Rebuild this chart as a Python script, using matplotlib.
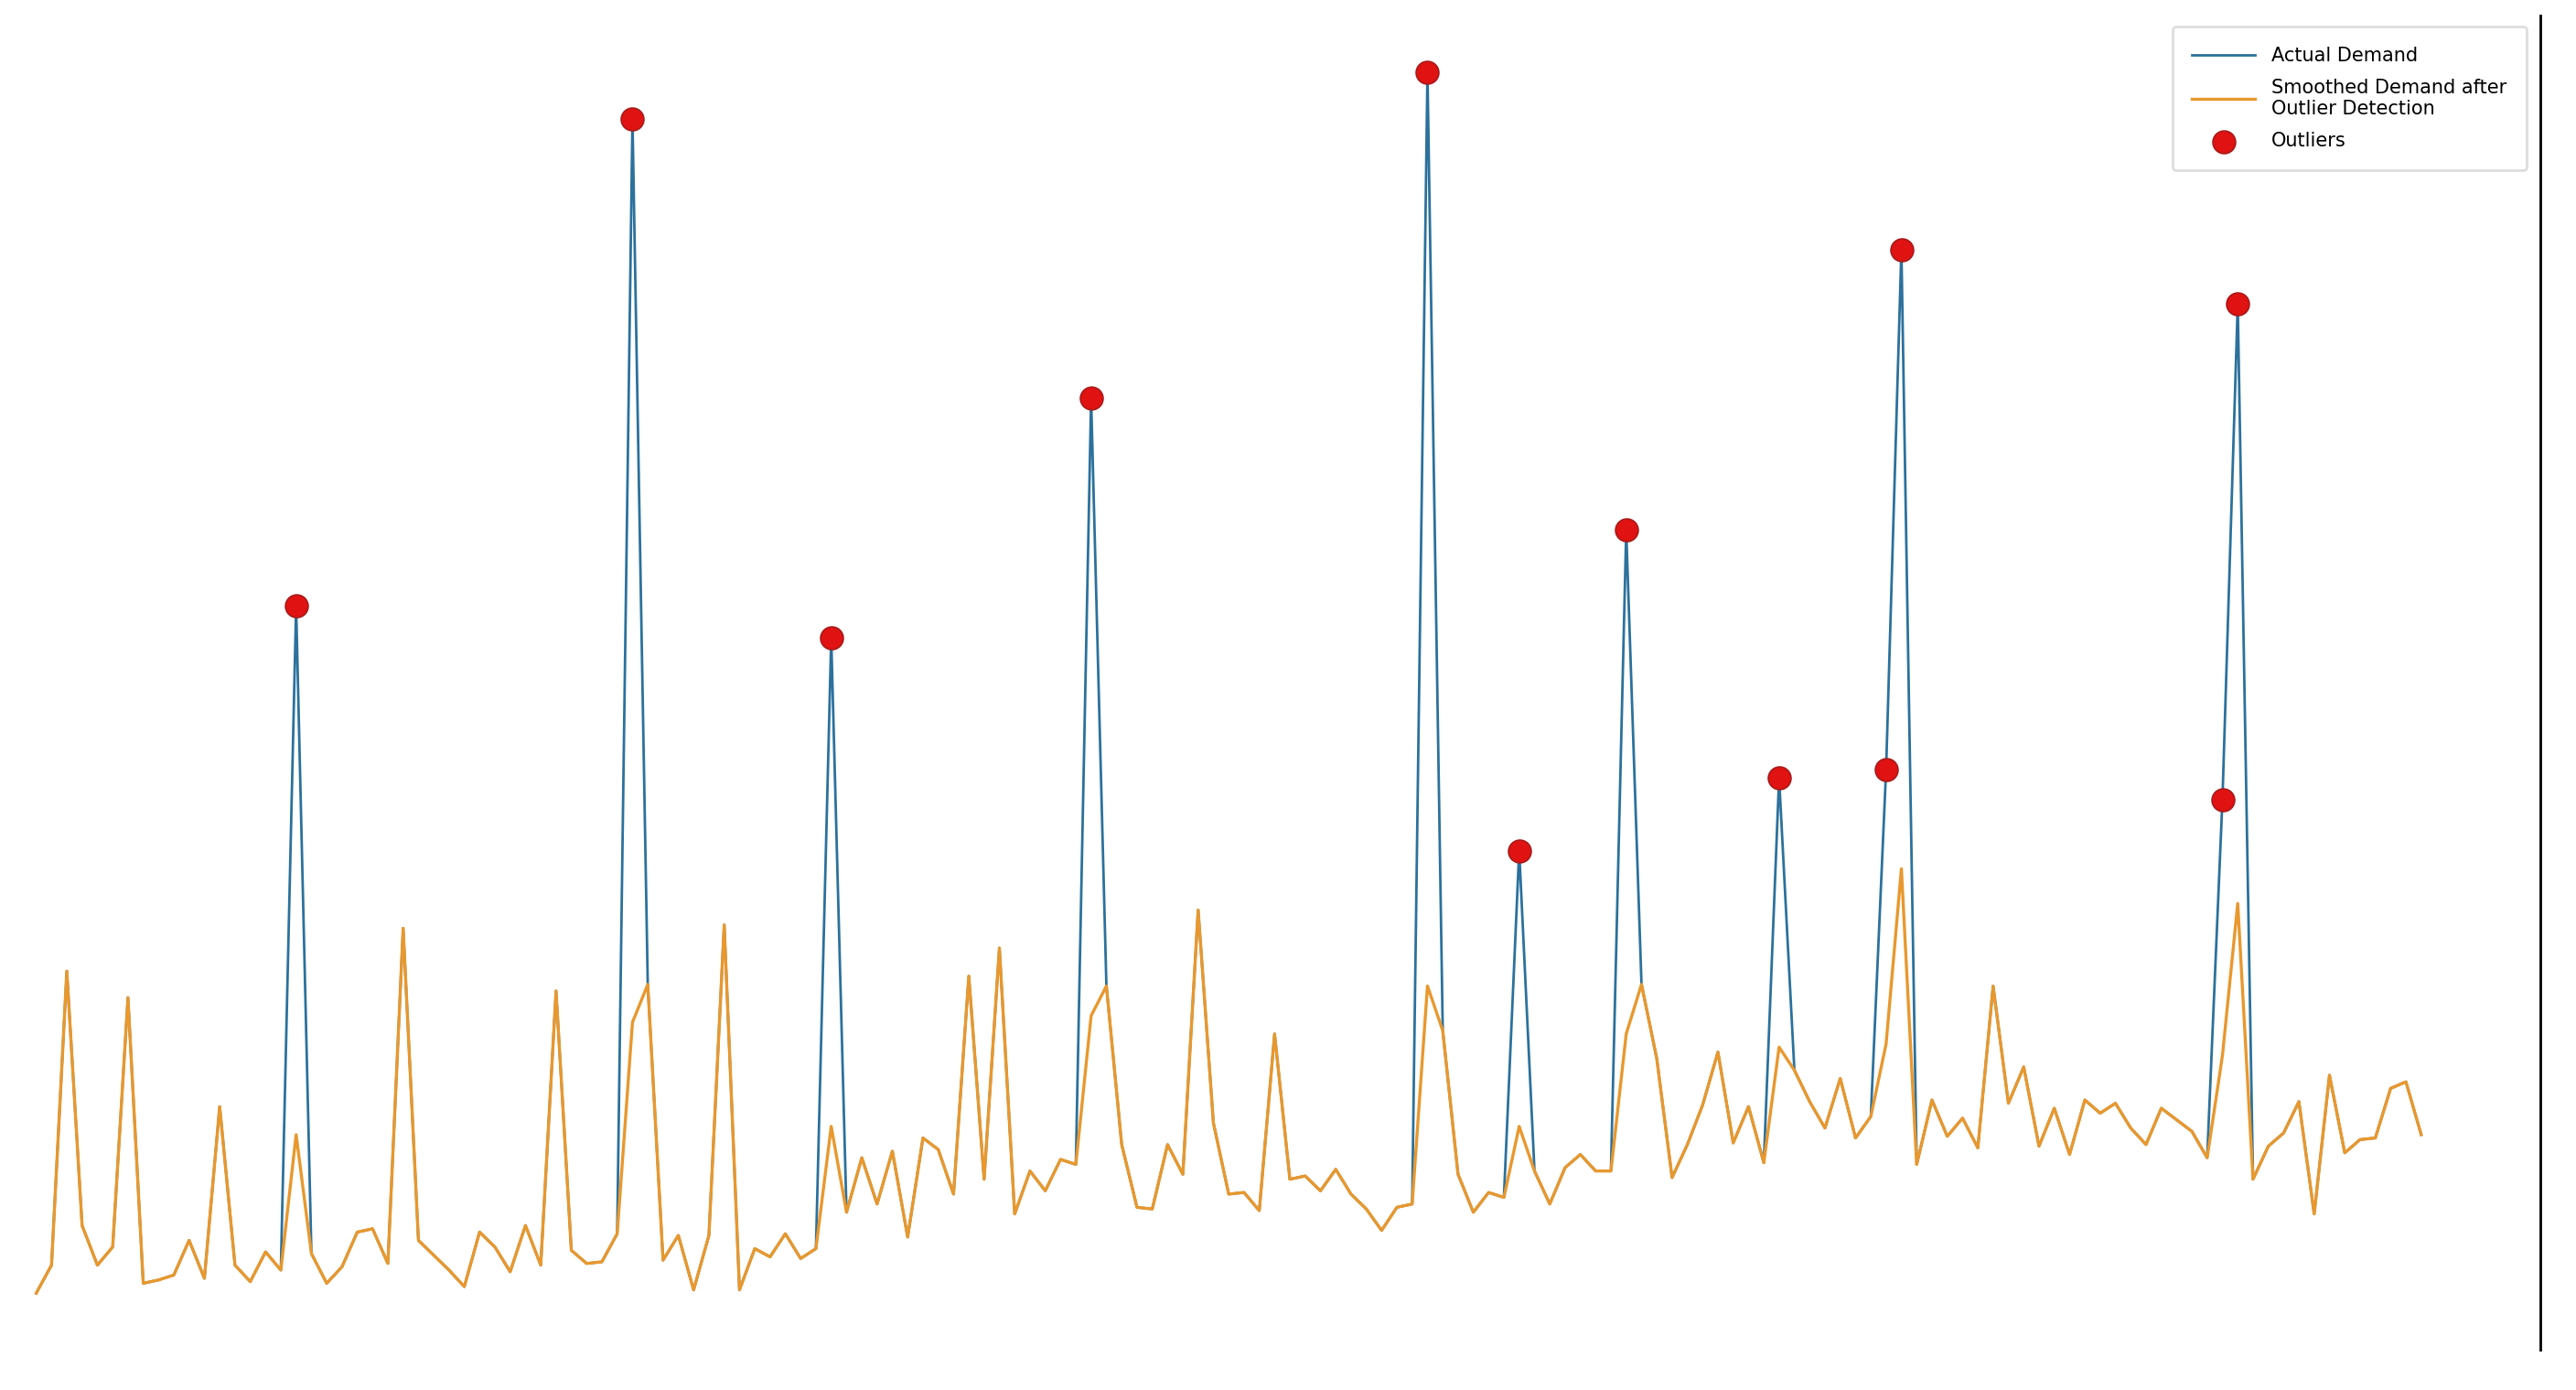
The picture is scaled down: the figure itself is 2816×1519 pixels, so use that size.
import numpy as np
import matplotlib.pyplot as plt

plt.rcParams['font.family'] = ['DejaVu Sans']

# smoothed demand per week (outliers replaced)
smoothed = [17, 34, 212, 58, 34, 45, 196, 23, 25, 28,
            49, 26, 130, 34, 24, 42, 31, 113, 41, 23,
            33, 54, 56, 35, 238, 49, 40, 31, 21, 54,
            45, 30, 58, 34, 200, 43, 35, 36, 53, 181,
            204, 37, 52, 19, 52, 240, 19, 44, 39, 53,
            38, 44, 118, 66, 99, 71, 103, 51, 111, 104,
            77, 209, 86, 226, 65, 91, 79, 98, 95, 185,
            203, 107, 69, 68, 107, 89, 249, 120, 77, 78,
            67, 174, 86, 88, 79, 92, 77, 68, 55, 69,
            71, 203, 176, 89, 66, 78, 75, 118, 91, 71,
            93, 101, 91, 91, 174, 204, 159, 87, 107, 131,
            163, 108, 130, 96, 166, 152, 133, 117, 147, 111,
            124, 168, 274, 95, 134, 112, 123, 105, 203, 132,
            154, 106, 129, 101, 134, 126, 132, 117, 107, 129,
            122, 115, 99, 161, 253, 86, 106, 114, 133, 65,
            149, 102, 110, 111, 141, 145, 113]

# detected outliers: week index and actual value
outlier_idx = [17, 39, 52, 69, 91, 97, 104, 114, 121, 122, 143, 144]
outlier_val = [433, 728, 414, 559, 756, 285, 479, 329, 334, 649, 316, 616]

weeks = np.arange(len(smoothed))
actual = np.array(smoothed, dtype=float)
actual[outlier_idx] = outlier_val

fig = plt.figure(figsize=(14.08, 7.595), dpi=200)
ax = fig.add_axes([0.0, 0.029, 0.9862, 0.9598])

ax.plot(weeks, actual, color='#2c719c', linewidth=1.0, label='Actual Demand', zorder=2)
ax.plot(weeks, smoothed, color='#e8982e', linewidth=1.2,
        label='Smoothed Demand after\nOutlier Detection', zorder=3)
ax.scatter(outlier_idx, outlier_val, s=80, color='#e01212', edgecolor='#a81a1a',
           linewidth=0.6, label='Outliers', zorder=4)

ax.set_xlim(-2.37, 163.8)
ax.set_ylim(-17.2, 790.6)
ax.set_xticks([])
ax.set_yticks([])
for side in ['left', 'top', 'bottom']:
    ax.spines[side].set_visible(False)
ax.spines['right'].set_linewidth(1.0)
ax.spines['right'].set_color('black')

ax.legend(loc='upper right', bbox_to_anchor=(2762 / 2816, 1 - 29 / 1519),
          bbox_transform=fig.transFigure, borderaxespad=0, fontsize=7.5,
          handlelength=3.3, handletextpad=0.85, labelspacing=0.72,
          borderpad=1.05, frameon=True, edgecolor='#dddddd', framealpha=1)

plt.savefig('out.png', dpi=200)
